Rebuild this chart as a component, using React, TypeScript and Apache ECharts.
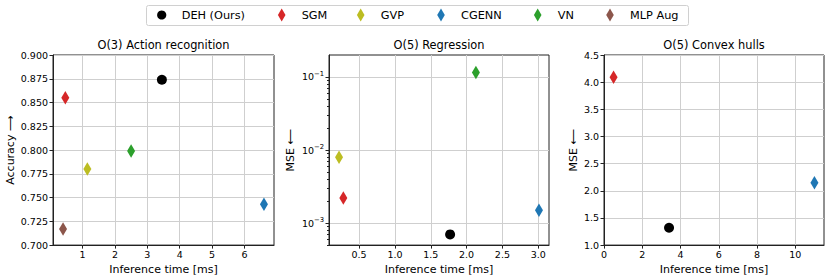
import React, { useEffect, useRef } from 'react';
import * as echarts from 'echarts';

const methods = ['DEH (Ours)', 'SGM', 'GVP', 'CGENN', 'VN', 'MLP Aug'];
const colors = ['#000000', '#d62728', '#bcbd22', '#1f77b4', '#2ca02c', '#8c564b'];

// Panel 1: O(3) Action recognition
const actionTime = [3.45, 0.47, 1.15, 6.6, 2.5, 0.4];
const actionAcc = [0.874, 0.855, 0.78, 0.743, 0.799, 0.717];
// Panel 2: O(5) Regression
const regTime: (number | null)[] = [1.77, 0.28, 0.22, 3.01, 2.13, null];
const regMse: (number | null)[] = [0.0007, 0.0022, 0.008, 0.0015, 0.115, null];
// Panel 3: O(5) Convex hulls
const hullTime: (number | null)[] = [3.4, 0.5, null, 11.0, null, null];
const hullMse: (number | null)[] = [1.32, 4.09, null, 2.15, null, null];

const actionXTicks = [1, 2, 3, 4, 5, 6];
const actionYTicks = [0.7, 0.725, 0.75, 0.775, 0.8, 0.825, 0.85, 0.875, 0.9];
const regXTicks = [0.5, 1.0, 1.5, 2.0, 2.5, 3.0];
const regYDecades = [-3, -2, -1];
const regYMinor = [
  5e-4, 6e-4, 7e-4, 8e-4, 9e-4,
  2e-3, 3e-3, 4e-3, 5e-3, 6e-3, 7e-3, 8e-3, 9e-3,
  2e-2, 3e-2, 4e-2, 5e-2, 6e-2, 7e-2, 8e-2, 9e-2,
];
const hullXTicks = [0, 2, 4, 6, 8, 10];
const hullYTicks = [1.0, 1.5, 2.0, 2.5, 3.0, 3.5, 4.0, 4.5];

const FONT = 'DejaVu Sans';
const DIAMOND = 'path://M5,0L10,10L5,20L0,10Z';

export default function App() {
  const ref = useRef<HTMLDivElement>(null);
  useEffect(() => {
    document.body.style.margin = '0';
    const chart = echarts.init(ref.current!, null, { renderer: 'svg' });

    const tickFont = 9.5;
    const axisLine = { show: true, lineStyle: { color: '#222', width: 1 } };
    const splitLine = { show: true, lineStyle: { color: '#cfcfcf', width: 1 } };
    const axisTick = (vals: number[], len = 3.5) => ({
      show: true, length: len, customValues: vals, lineStyle: { color: '#222', width: 1 },
    });
    const nameStyle = { fontSize: 11, color: '#000', fontFamily: FONT };

    const grids = [
      { left: 53, top: 55, width: 221, height: 191 },
      { left: 329, top: 55, width: 220, height: 191 },
      { left: 604, top: 55, width: 220, height: 191 },
    ].map((g) => ({ ...g, show: true, borderColor: '#222', borderWidth: 1, backgroundColor: 'transparent' }));

    const xAxis = [
      {
        type: 'value', gridIndex: 0, min: 0.09, max: 6.91,
        axisLine, splitLine, axisTick: axisTick(actionXTicks),
        axisLabel: { customValues: actionXTicks, fontSize: tickFont, color: '#000', fontFamily: FONT, margin: 4, formatter: (v: number) => String(v) },
        name: 'Inference time [ms]', nameLocation: 'middle', nameGap: 16, nameTextStyle: nameStyle,
      },
      {
        type: 'value', gridIndex: 1, min: 0.08, max: 3.15,
        axisLine, splitLine, axisTick: axisTick(regXTicks),
        axisLabel: { customValues: regXTicks, fontSize: tickFont, color: '#000', fontFamily: FONT, margin: 4, formatter: (v: number) => v.toFixed(1) },
        name: 'Inference time [ms]', nameLocation: 'middle', nameGap: 16, nameTextStyle: nameStyle,
      },
      {
        type: 'value', gridIndex: 2, min: 0, max: 11.5,
        axisLine, splitLine, axisTick: axisTick(hullXTicks),
        axisLabel: { customValues: hullXTicks, fontSize: tickFont, color: '#000', fontFamily: FONT, margin: 4, formatter: (v: number) => String(v) },
        name: 'Inference time [ms]', nameLocation: 'middle', nameGap: 16, nameTextStyle: nameStyle,
      },
    ];

    const yAxis = [
      {
        type: 'value', gridIndex: 0, min: 0.7, max: 0.9,
        axisLine, splitLine, axisTick: axisTick(actionYTicks),
        axisLabel: { customValues: actionYTicks, fontSize: tickFont, color: '#000', fontFamily: FONT, margin: 5, formatter: (v: number) => v.toFixed(3) },
        name: 'Accuracy ⟶', nameLocation: 'middle', nameRotate: 90, nameGap: 37, nameTextStyle: nameStyle,
      },
      {
        type: 'value', gridIndex: 1, min: Math.log10(0.0005), max: Math.log10(0.2),
        axisLine, splitLine, axisTick: axisTick(regYDecades),
        axisLabel: {
          customValues: regYDecades, color: '#000', fontFamily: FONT, margin: 5,
          formatter: (v: number) => `{b|10}{s|−${Math.round(-v)}}`,
          rich: {
            b: { fontSize: tickFont, fontFamily: FONT, color: '#000' },
            s: { fontSize: 6.8, fontFamily: FONT, color: '#000', padding: [0, 0, 6, 0] },
          },
        },
        name: 'MSE ⟵', nameLocation: 'middle', nameRotate: 90, nameGap: 33, nameTextStyle: nameStyle,
      },
      {
        type: 'value', gridIndex: 1, position: 'left', min: Math.log10(0.0005), max: Math.log10(0.2),
        axisLine: { show: false }, splitLine: { show: false },
        axisTick: axisTick(regYMinor.map((m) => Math.log10(m)), 2),
        axisLabel: { show: false },
      },
      {
        type: 'value', gridIndex: 2, min: 1, max: 4.5,
        axisLine, splitLine, axisTick: axisTick(hullYTicks),
        axisLabel: { customValues: hullYTicks, fontSize: tickFont, color: '#000', fontFamily: FONT, margin: 5, formatter: (v: number) => v.toFixed(1) },
        name: 'MSE ⟵', nameLocation: 'middle', nameRotate: 90, nameGap: 25, nameTextStyle: nameStyle,
      },
    ];

    const mk = (i: number, x: number | null, y: number | null, xi: number, yi: number) => {
      if (x === null || y === null) return null;
      const isCircle = i === 0;
      return {
        type: 'scatter', name: methods[i], xAxisIndex: xi, yAxisIndex: yi,
        symbol: isCircle ? 'circle' : DIAMOND,
        symbolSize: isCircle ? 10 : [8, 13.5],
        itemStyle: { color: colors[i], opacity: 1 },
        data: [[x, y]], z: 5, silent: true,
      };
    };
    const series: any[] = [];
    methods.forEach((_, i) => {
      series.push(mk(i, actionTime[i], actionAcc[i], 0, 0));
      const r = regMse[i];
      series.push(mk(i, regTime[i], r === null ? null : Math.log10(r), 1, 1));
      series.push(mk(i, hullTime[i], hullMse[i], 2, 3));
    });

    // Legend (drawn as graphic)
    const legendMarkerX = [161.7, 281.7, 360.7, 441, 537.7, 610];
    const legendY = 15;
    const legendEls: any[] = [
      { type: 'rect', shape: { x: 146.5, y: 5.5, width: 542, height: 20, r: 2 }, style: { fill: '#fff', stroke: '#d0d0d0', lineWidth: 1 }, z: 10 },
    ];
    methods.forEach((m, i) => {
      const cx = legendMarkerX[i];
      if (i === 0) {
        legendEls.push({ type: 'circle', shape: { cx, cy: legendY, r: 4.6 }, style: { fill: colors[i] }, z: 11 });
      } else {
        legendEls.push({
          type: 'polygon',
          shape: { points: [[cx, legendY - 6.5], [cx + 3.8, legendY], [cx, legendY + 6.5], [cx - 3.8, legendY]] },
          style: { fill: colors[i] }, z: 11,
        });
      }
      legendEls.push({
        type: 'text', x: cx + 20, y: legendY,
        style: { text: m, fill: '#000', font: `11.3px "${FONT}"`, textVerticalAlign: 'middle', verticalAlign: 'middle' },
        z: 11,
      });
    });

    const titleStyle = { fontSize: 11.4, fontWeight: 'normal', color: '#000', fontFamily: FONT };
    chart.setOption({
      animation: false,
      textStyle: { fontFamily: FONT },
      title: [
        { text: 'O(3) Action recognition', left: 163.5, top: 39, textAlign: 'center', textStyle: titleStyle, padding: 0 },
        { text: 'O(5) Regression', left: 439, top: 39, textAlign: 'center', textStyle: titleStyle, padding: 0 },
        { text: 'O(5) Convex hulls', left: 714, top: 39, textAlign: 'center', textStyle: titleStyle, padding: 0 },
      ],
      grid: grids,
      xAxis,
      yAxis,
      series: series.filter(Boolean),
      graphic: legendEls,
    });
    return () => chart.dispose();
  }, []);
  return <div ref={ref} style={{ position: 'fixed', left: 0, top: 0, width: 830, height: 280, background: '#fff' }} />;
}
